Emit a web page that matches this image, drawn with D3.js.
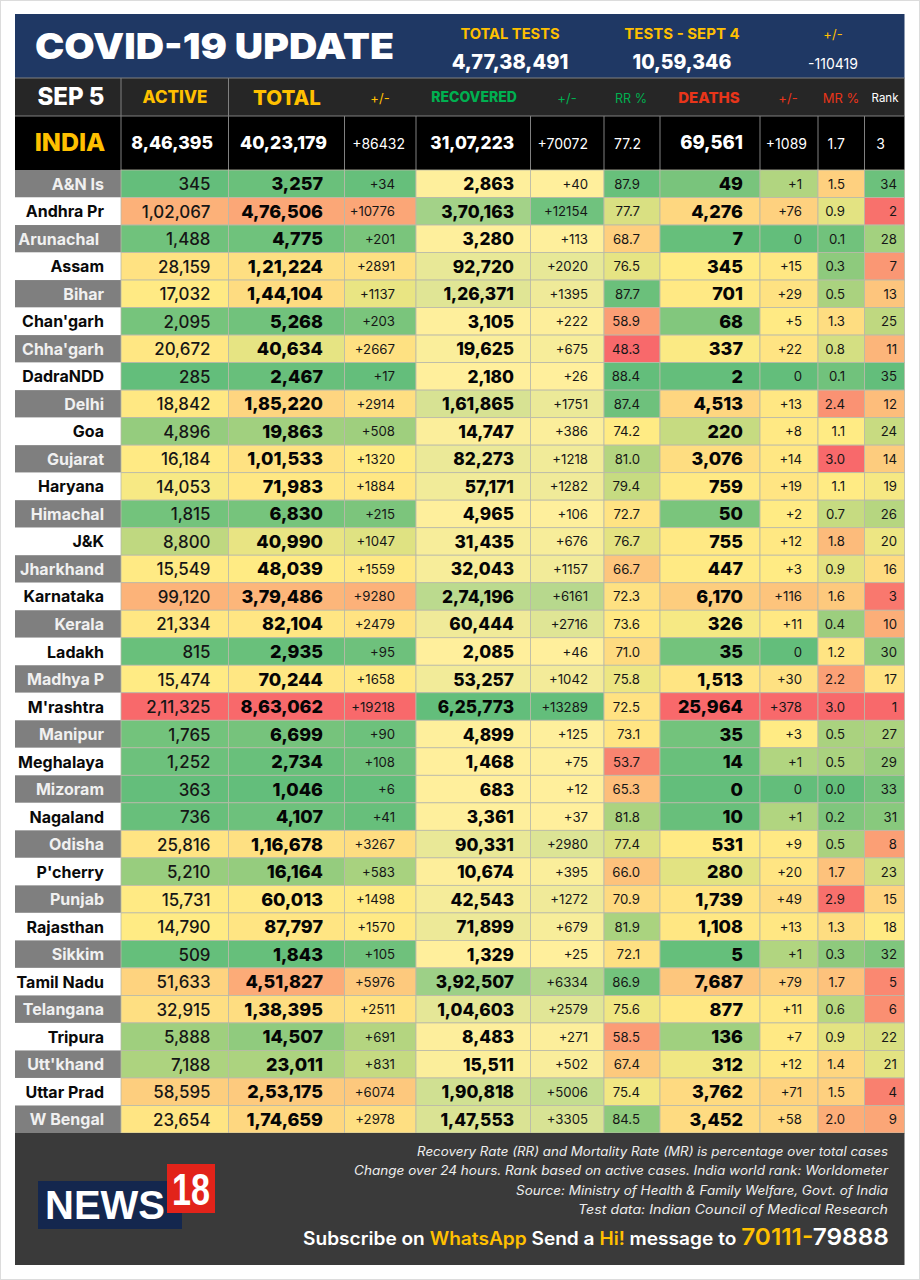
<!DOCTYPE html>
<html><head><meta charset="utf-8">
<script src="https://cdn.jsdelivr.net/npm/d3@7"></script>
<style>html,body{margin:0;padding:0;background:#fff}svg{display:block}text{font-family:Inter,"Open Sans",sans-serif}</style>
</head><body><svg id="c" width="920" height="1280"></svg>
<script>
const states=["A&N Is","Andhra Pr","Arunachal","Assam","Bihar","Chan'garh","Chha'garh","DadraNDD","Delhi","Goa","Gujarat","Haryana","Himachal","J&K","Jharkhand","Karnataka","Kerala","Ladakh","Madhya P","M'rashtra","Manipur","Meghalaya","Mizoram","Nagaland","Odisha","P'cherry","Punjab","Rajasthan","Sikkim","Tamil Nadu","Telangana","Tripura","Utt'khand","Uttar Prad","W Bengal"];
const active=[345,102067,1488,28159,17032,2095,20672,285,18842,4896,16184,14053,1815,8800,15549,99120,21334,815,15474,211325,1765,1252,363,736,25816,5210,15731,14790,509,51633,32915,5888,7188,58595,23654];
const total=[3257,476506,4775,121224,144104,5268,40634,2467,185220,19863,101533,71983,6830,40990,48039,379486,82104,2935,70244,863062,6699,2734,1046,4107,116678,16164,60013,87797,1843,451827,138395,14507,23011,253175,174659];
const totalChange=[34,10776,201,2891,1137,203,2667,17,2914,508,1320,1884,215,1047,1559,9280,2479,95,1658,19218,90,108,6,41,3267,583,1498,1570,105,5976,2511,691,831,6074,2978];
const recovered=[2863,370163,3280,92720,126371,3105,19625,2180,161865,14747,82273,57171,4965,31435,32043,274196,60444,2085,53257,625773,4899,1468,683,3361,90331,10674,42543,71899,1329,392507,104603,8483,15511,190818,147553];
const recoveredChange=[40,12154,113,2020,1395,222,675,26,1751,386,1218,1282,106,676,1157,6161,2716,46,1042,13289,125,75,12,37,2980,395,1272,679,25,6334,2579,271,502,5006,3305];
const recoveryRate=[87.9,77.7,68.7,76.5,87.7,58.9,48.3,88.4,87.4,74.2,81.0,79.4,72.7,76.7,66.7,72.3,73.6,71.0,75.8,72.5,73.1,53.7,65.3,81.8,77.4,66.0,70.9,81.9,72.1,86.9,75.6,58.5,67.4,75.4,84.5];
const deaths=[49,4276,7,345,701,68,337,2,4513,220,3076,759,50,755,447,6170,326,35,1513,25964,35,14,0,10,531,280,1739,1108,5,7687,877,136,312,3762,3452];
const deathsChange=[1,76,0,15,29,5,22,0,13,8,14,19,2,12,3,116,11,0,30,378,3,1,0,1,9,20,49,13,1,79,11,7,12,71,58];
const mortalityRate=[1.5,0.9,0.1,0.3,0.5,1.3,0.8,0.1,2.4,1.1,3.0,1.1,0.7,1.8,0.9,1.6,0.4,1.2,2.2,3.0,0.5,0.5,0.0,0.2,0.5,1.7,2.9,1.3,0.3,1.7,0.6,0.9,1.4,1.5,2.0];
const rank=[34,2,28,7,13,25,11,35,12,24,14,19,26,20,16,3,10,30,17,1,27,29,33,31,8,23,15,18,32,5,6,22,21,4,9];
const indiaRow=["8,46,395","40,23,179","+86432","31,07,223","+70072","77.2","69,561","+1089","1.7","3"];
const headerLabels=["ACTIVE","TOTAL","+/-","RECOVERED","+/-","RR %","DEATHS","+/-","MR %","Rank"];
const testLabels=["TOTAL TESTS","TESTS - SEPT 4","+/-"];
const testValues=["4,77,38,491","10,59,346","-110419"];
const notes=["Recovery Rate (RR) and Mortality Rate (MR) is percentage over total cases","Change over 24 hours. Rank based on active cases. India world rank: Worldometer","Source: Ministry of Health & Family Welfare, Govt. of India","Test data: Indian Council of Medical Research"];

const svg=d3.select("#c");
const GREEN="#63BE7B",YEL="#FFEB84",RED="#F8696B",PALE="#FFEF9C";
const edges=[15,121,228.5,344.5,416,530.5,604,660,760,818,864.5,904.5];
const rows=d3.scaleBand().domain(states).range([170,1133]);
const inr=n=>{const s=String(n);if(s.length<=3)return s;const h=s.slice(0,-3),t=s.slice(-3);return h.replace(/\B(?=(\d{2})+$)/g,",")+","+t;};
const plus=n=>n===0?"0":"+"+n;
const threeUp=(a,mid)=>d3.scaleLinear().domain([d3.min(a),mid===undefined?d3.median(a):mid,d3.max(a)]).range([GREEN,YEL,RED]);
const threeDown=a=>d3.scaleLinear().domain([d3.max(a),d3.median(a),d3.min(a)]).range([GREEN,YEL,RED]);
const two=a=>d3.scaleLinear().domain([d3.min(a),d3.max(a)]).range([PALE,GREEN]);
const columns=[
 {v:active,c:threeUp(active),f:inr,r:210.5,fs:16.9,w:500},
 {v:total,c:threeUp(total),f:inr,r:323,fs:18,w:800},
 {v:totalChange,c:threeUp(totalChange),f:plus,r:395,fs:13.2,w:400},
 {v:recovered,c:two(recovered),f:inr,r:514,fs:17.3,w:800},
 {v:recoveredChange,c:two(recoveredChange),f:plus,r:588,fs:13.2,w:400},
 {v:recoveryRate,c:threeDown(recoveryRate),f:d=>d.toFixed(1),r:640,fs:13.2,w:400},
 {v:deaths,c:threeUp(deaths),f:inr,r:743,fs:18,w:800},
 {v:deathsChange,c:threeUp(deathsChange,2),f:plus,r:802,fs:13.2,w:400},
 {v:mortalityRate,c:threeUp(mortalityRate),f:d=>d.toFixed(1),r:845,fs:13.2,w:400},
 {v:rank,c:threeDown(rank),f:String,r:897,fs:13.2,w:400}
];
const rect=(x,y,w,h,fill)=>svg.append("rect").attr("x",x).attr("y",y).attr("width",w).attr("height",h).attr("fill",fill);
const text=(s,x,y,fs,w,fill,anchor)=>svg.append("text").text(s).attr("x",x).attr("y",y).attr("font-size",fs).attr("font-weight",w).attr("fill",fill).attr("text-anchor",anchor||"middle");

rect(0.5,0.5,919,1279,"#fff").attr("stroke","#dcdcdc");

// banner
rect(15,14,889.5,64,"#1F3864");
text("COVID-19 UPDATE",35,59,36,900,"#fff","start").attr("textLength",359).attr("lengthAdjust","spacingAndGlyphs");
const testFs=[14.7,15,13],testValFs=[20,19.5,14];
[510,682,833].forEach((x,i)=>{
  text(testLabels[i],x,39,testFs[i],i==2?400:700,"#FFC000");
  text(testValues[i],x,69,testValFs[i],i==2?400:800,"#fff");
});

// header row
rect(15,78,889.5,38,"#262626");
text("SEP 5",71,105,24,800,"#fff");
const headX=[175,287,380,474,567,631,709,788,841,885];
const headCol=["#FFC000","#FFC000","#FFC000","#00B050","#00B050","#00B050","#E8351A","#E8351A","#E8351A","#fff"];
const headFs=[17,20.5,13,14,13,12.5,15,13,13,11.5];
const headBase=[103,105,103,102,103,103,103,103,103,102];
const headW=[800,800,400,800,400,400,800,400,400,400];
headerLabels.forEach((h,i)=>text(h,headX[i],headBase[i],headFs[i],headW[i],headCol[i]));
[121,228.5].forEach(x=>svg.append("line").attr("x1",x).attr("x2",x).attr("y1",78).attr("y2",116).attr("stroke","#808080"));

// India row
rect(15,116,889.5,54,"#000");
text("INDIA",70,151,25,800,"#FFC000");
const indiaR=[213,327,405,514,588,641,743,807,845,885];
const indiaFs=[17.7,17.7,14,17.3,14,14,18.5,14,14,14];
const indiaW=[800,800,400,800,400,400,800,400,400,400];
indiaRow.forEach((s,i)=>text(s,indiaR[i],149,indiaFs[i],indiaW[i],"#fff","end"));
edges.slice(1,-1).forEach(x=>svg.append("line").attr("x1",x).attr("x2",x).attr("y1",116).attr("y2",170).attr("stroke","#808080"));
svg.append("line").attr("x1",15).attr("x2",904.5).attr("y1",78).attr("y2",78).attr("stroke","#808080");
svg.append("line").attr("x1",15).attr("x2",904.5).attr("y1",116).attr("y2",116).attr("stroke","#808080");

// state rows
states.forEach((s,i)=>{
  const y=rows(s),h=rows.bandwidth(),grey=i%2===0;
  rect(15,y,106,h,grey?"#7F7F7F":"#fff");
  const nameRight=s==="Arunachal"?99:104;
  text(s,nameRight,y+h/2+6,16,700,grey?"#F0F0F0":"#0a0a0a","end");
  columns.forEach((c,j)=>{
    rect(edges[j+1],y,edges[j+2]-edges[j+1],h,c.c(c.v[i])).attr("stroke","#b9b9a8").attr("stroke-width",.8);
    text(c.f(c.v[i]),c.r,y+h/2+(c.fs>15?6.5:5),c.fs,c.w,c.w>=800?"#050505":"#161616","end");
  });
});

// footer
rect(15,1133,889.5,132,"#3A3A3A");
const noteY=[1156,1175,1195,1214],noteW=[471,534,372,310];
notes.forEach((n,i)=>text(n,888,noteY[i],12.5,400,"#EDEDED","end").attr("font-style","italic").attr("textLength",noteW[i]).attr("lengthAdjust","spacingAndGlyphs"));
const sub=text("",303,1245,18,600,"#fff","start").attr("textLength",586).attr("lengthAdjust","spacingAndGlyphs");
[["Subscribe on ","#fff"],["WhatsApp","#FFC000"],[" Send a ","#fff"],["Hi!","#FFC000"],[" message to ","#fff"]].forEach(p=>sub.append("tspan").text(p[0]).attr("fill",p[1]));
sub.append("tspan").text("70111-").attr("fill","#FFC000").attr("font-size",23);
sub.append("tspan").text("79888").attr("fill","#fff").attr("font-size",23);

// logo
rect(38,1181,144,48,"#14274E");
rect(167,1164,48,49,"#E2231A");
svg.append("text").text("NEWS").attr("x",45).attr("y",1219).attr("font-size",40).attr("font-weight",700).attr("fill","#fff").style("font-family","'Liberation Sans'").attr("textLength",120).attr("lengthAdjust","spacingAndGlyphs");
svg.append("text").text("18").attr("x",172).attr("y",1205).attr("font-size",44).attr("font-weight",700).attr("fill","#fff").style("font-family","'Liberation Sans'").attr("textLength",38).attr("lengthAdjust","spacingAndGlyphs");
</script></body></html>
